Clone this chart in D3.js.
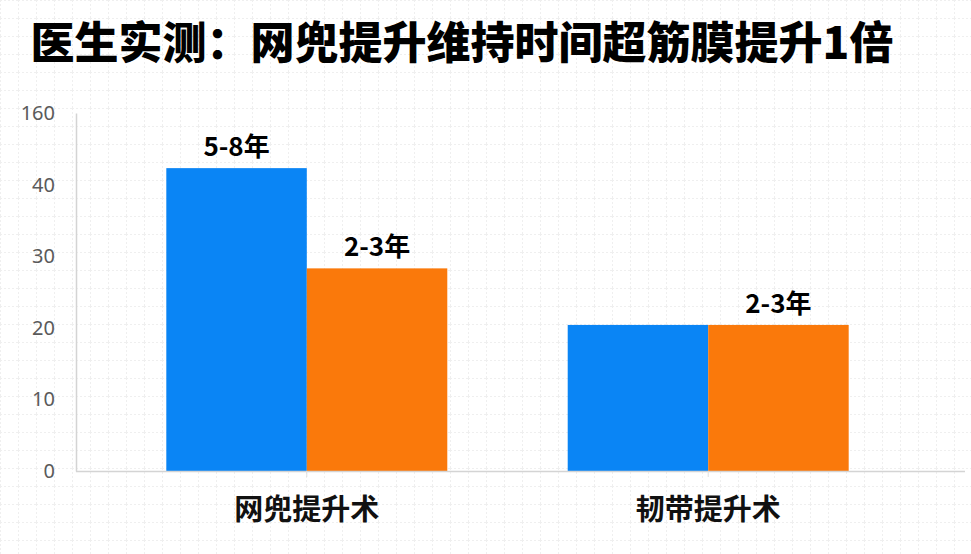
<!DOCTYPE html>
<html>
<head>
<meta charset="utf-8">
<script src="https://cdn.jsdelivr.net/npm/d3@7"></script>
<style>
  body { margin: 0; background: #fff; }
  text { font-family: "Noto Sans CJK SC", "Noto Sans", sans-serif; }
</style>
</head>
<body>
<div id="chart"></div>
<script>
// chart data
var title = "医生实测：网兜提升维持时间超筋膜提升1倍";
var categories = ["网兜提升术", "韧带提升术"];
var seriesNames = ["维持时间", "对照"];
var blueValues = [42.3, 20.4];
var orangeValues = [28.3, 20.4];
var blueLabels = ["5-8年", ""];
var orangeLabels = ["2-3年", "2-3年"];
var tickValues = [0, 10, 20, 30, 40, 50];
var tickLabels = ["0", "10", "20", "30", "40", "160"];

var width = 971, height = 554;
var svg = d3.select("#chart").append("svg")
    .attr("width", width)
    .attr("height", height);

// faint dotted paper grid in the background
var defs = svg.append("defs");
var pat = defs.append("pattern")
    .attr("id", "paper")
    .attr("width", 18).attr("height", 18)
    .attr("patternUnits", "userSpaceOnUse");
pat.append("path")
    .attr("d", "M0 0.5 H18 M0.5 0 V18")
    .attr("stroke", "#efefef")
    .attr("stroke-width", 1)
    .attr("stroke-dasharray", "2,2")
    .attr("fill", "none");
svg.append("rect")
    .attr("width", width).attr("height", height)
    .attr("fill", "url(#paper)");

// title
svg.append("text")
    .attr("x", 462)
    .attr("y", 59)
    .attr("text-anchor", "middle")
    .attr("font-size", "44px")
    .attr("font-weight", 900)
    .attr("fill", "#000")
    .text(title);

var x0 = d3.scaleBand()
    .domain(categories)
    .range([76, 939])
    .paddingInner(0.3)
    .paddingOuter(0.225);

var x1 = d3.scaleBand()
    .domain(seriesNames)
    .range([0, x0.bandwidth()]);

var y = d3.scaleLinear()
    .domain([0, 50])
    .range([471, 113]);

// y axis
var yAxis = svg.append("g")
    .attr("transform", "translate(76,0)")
    .call(d3.axisLeft(y)
        .tickValues(tickValues)
        .tickSize(0)
        .tickPadding(21)
        .tickFormat(function (d, i) { return tickLabels[i]; }));
yAxis.select(".domain").attr("stroke", "#d4d4d4").attr("stroke-width", 1.5);
yAxis.selectAll("text")
    .attr("font-size", "20px")
    .attr("fill", "#5a5a5a")
    .style("font-family", "'Noto Sans', sans-serif");

// bars
var groups = svg.selectAll("g.group")
    .data(categories)
    .enter().append("g")
    .attr("class", "group")
    .attr("transform", function (d) { return "translate(" + x0(d) + ",0)"; });

groups.append("rect")
    .attr("x", x1(seriesNames[0]))
    .attr("width", x1.bandwidth())
    .attr("y", function (d, i) { return y(blueValues[i]); })
    .attr("height", function (d, i) { return y(0) - y(blueValues[i]); })
    .attr("fill", "#0a85f5");

groups.append("rect")
    .attr("x", x1(seriesNames[1]))
    .attr("width", x1.bandwidth())
    .attr("y", function (d, i) { return y(orangeValues[i]); })
    .attr("height", function (d, i) { return y(0) - y(orangeValues[i]); })
    .attr("fill", "#fa790b");

// value labels
groups.append("text")
    .attr("x", x1(seriesNames[0]) + x1.bandwidth() / 2)
    .attr("y", function (d, i) { return y(blueValues[i]) - 12; })
    .attr("text-anchor", "middle")
    .attr("font-size", "26px")
    .attr("font-weight", 700)
    .text(function (d, i) { return blueLabels[i]; });

groups.append("text")
    .attr("x", x1(seriesNames[1]) + x1.bandwidth() / 2)
    .attr("y", function (d, i) { return y(orangeValues[i]) - 12; })
    .attr("text-anchor", "middle")
    .attr("font-size", "26px")
    .attr("font-weight", 700)
    .text(function (d, i) { return orangeLabels[i]; });

// x axis
var xAxis = svg.append("g")
    .attr("transform", "translate(0,471)")
    .call(d3.axisBottom(x0).tickSize(6).tickPadding(14));
xAxis.select(".domain")
    .attr("d", "M76,0.5H965")
    .attr("stroke", "#d4d4d4")
    .attr("stroke-width", 1.5);
xAxis.selectAll(".tick line").attr("stroke", "#e0e0e0");
xAxis.selectAll("text")
    .attr("font-size", "29px")
    .attr("font-weight", 700)
    .attr("fill", "#111")
    .attr("dy", "1em");
</script>
</body>
</html>
